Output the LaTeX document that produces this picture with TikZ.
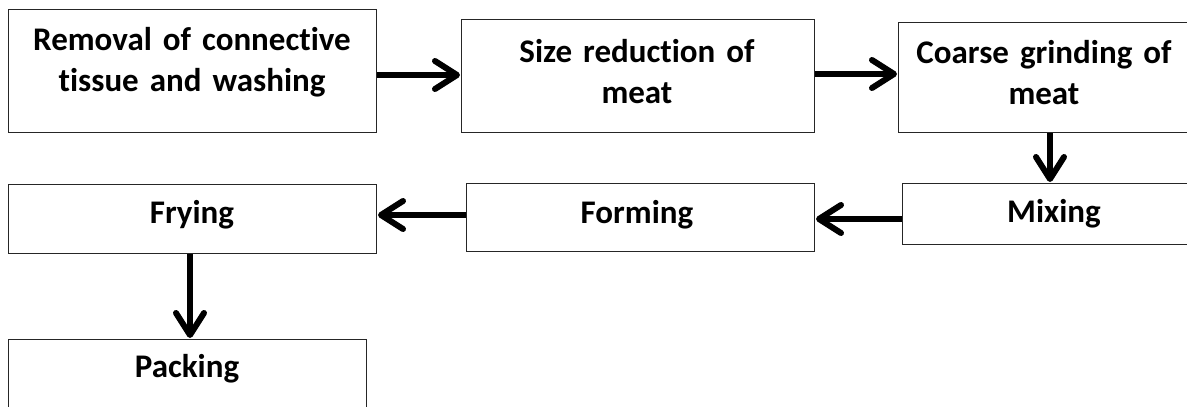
\documentclass[tikz,border=0pt]{standalone}
\usepackage{fontspec}
\setmainfont{Carlito}[Ligatures=NoCommon]
\usetikzlibrary{arrows.meta,calc}
\tikzset{
  box/.style={draw=black!85, line width=1pt, fill=white, rectangle, inner sep=0pt, anchor=north west},
  lbl/.style={font=\fontsize{33}{41}\selectfont\bfseries, align=center, text width=400pt, inner sep=0pt, anchor=base},
  flow/.style={line width=6pt, -{Straight Barb[length=22pt,width=28pt,line width=6pt,line cap=round,line join=round]}, shorten >=1pt}
}
\begin{document}
\begin{tikzpicture}[x=1pt,y=-1pt]
\useasboundingbox (0,0) rectangle (1187,407);
\clip (0,0) rectangle (1187,407);
\fill[white] (0,0) rectangle (1187,407);
% boxes
\node[box, minimum width=368pt, minimum height=123pt] (b1) at (8,9) {};
\node[box, minimum width=353pt, minimum height=113pt] (b2) at (461,19) {};
\node[box, minimum width=292pt, minimum height=110pt] (b3) at (898,22) {};
\node[box, minimum width=304pt, minimum height=61pt] (b4) at (902,183) {};
\node[box, minimum width=348pt, minimum height=68pt] (b5) at (466,183) {};
\node[box, minimum width=368pt, minimum height=69pt] (b6) at (8,184) {};
\node[box, minimum width=358pt, minimum height=75pt] (b7) at (8,339) {};
% labels
\node[lbl] (t1) at (192,50) {Removal of connective\\tissue and washing};
\node[lbl] (t2) at (637,62) {Size reduction of\\meat};
\node[lbl] (t3) at (1044,63) {Coarse grinding of\\meat};
\node[lbl] (t4) at (1054,222) {Mixing};
\node[lbl] (t5) at (637,223) {Forming};
\node[lbl] (t6) at (192,223) {Frying};
\node[lbl] (t7) at (187,377) {Packing};
% arrows
\draw[flow] (b1.east |- 0,75) -- (b2.west |- 0,75);
\draw[flow] (b2.east |- 0,74) -- (b3.west |- 0,74);
\draw[flow] (b3.south -| 1050,0) -- (b4.north -| 1050,0);
\draw[flow] (b4.west |- 0,219) -- (b5.east |- 0,219);
\draw[flow] (b5.west |- 0,215) -- (b6.east |- 0,215);
\draw[flow] (b6.south -| 190,0) -- (b7.north -| 190,0);
\end{tikzpicture}
\end{document}
